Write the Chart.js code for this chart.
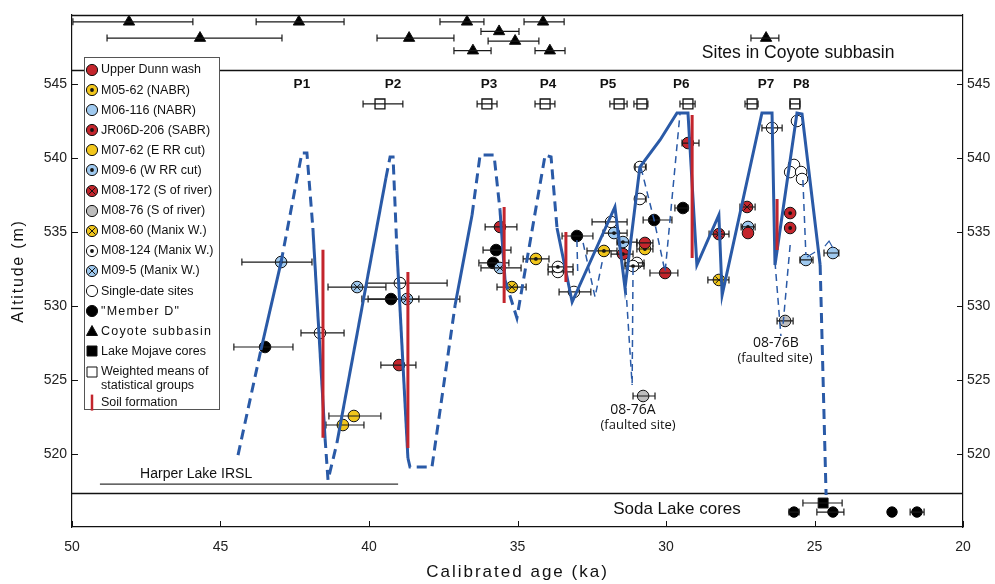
<!DOCTYPE html>
<html>
<head>
<meta charset="utf-8">
<script src="https://cdn.jsdelivr.net/npm/chart.js@4.4.1/dist/chart.umd.min.js"></script>
<style>
  html, body { margin: 0; padding: 0; background: #fff; }
  #wrap { width: 995px; height: 584px; }
</style>
</head>
<body>
<div id="wrap"><canvas id="ctx-lake"></canvas></div>
<script>
// ---- data: [age ka, altitude m, error low ka, error high ka] (null = no bar)
const upperDunn = [[38.99, 526.01, 39.60, 38.42], [35.59, 535.34, 36.09, 35.02], [30.71, 534.26, 30.98, 30.44],
                   [30.03, 532.23, 30.54, 29.60], [29.26, 541.01, 29.46, 28.89], [27.24, 534.93, null, null]];
const m0562 = [[34.38, 533.18, 34.81, 33.94], [32.09, 533.72, 32.66, 31.65], [30.71, 533.85, 30.98, 30.44]];
const m06116 = [[25.29, 533.11, 25.49, 25.05], [24.38, 533.58, 24.68, 24.18]];
const jr06d206 = [[31.45, 533.51, 31.85, 31.11], [25.82, 536.28, null, null], [25.82, 535.27, null, null]];
const m0762 = [[40.51, 522.57, 41.35, 39.60], [40.88, 521.96, 41.45, 40.17]];
const m096 = [[42.96, 532.97, 44.28, 41.92], [31.75, 534.93, 32.12, 31.31], [31.45, 534.32, 31.65, 30.98],
              [27.24, 535.34, 27.47, 27.00]];
const m08172 = [[28.22, 534.86, 28.55, 27.88], [27.27, 536.69, 27.51, 27.00]];
const m0876 = [[30.77, 523.92, 31.11, 30.37], [25.99, 528.99, 26.26, 25.72]];
const m0860 = [[35.19, 531.28, 35.69, 34.71], [28.22, 531.76, 28.59, 27.88]];
const m08124 = [[33.64, 532.64, 33.97, 33.13], [31.11, 532.70, 31.38, 30.74]];
const m095 = [[40.40, 531.28, 41.38, 39.43], [38.72, 530.47, 40.24, 38.32], [35.59, 532.57, 36.23, 34.88]];
const singleDate = [[41.65, 528.18, 42.29, 40.84], [38.96, 531.55, 40.07, 37.37], [33.64, 532.30, 33.97, 33.13],
                    [33.10, 530.95, 33.60, 32.53], [31.85, 535.68, 32.49, 31.31], [30.98, 532.91, 31.38, 30.74],
                    [30.88, 539.39, 31.04, 30.67], [30.88, 537.23, 31.04, 30.67], [26.43, 542.03, 26.77, 26.09],
                    [25.59, 542.50, null, null], [25.69, 539.53, null, null], [25.82, 539.05, null, null],
                    [25.45, 539.05, null, null], [25.42, 538.58, null, null]];
const memberD = [[43.50, 527.23, 44.55, 42.56], [39.26, 530.47, 40.03, 36.94], [35.72, 533.78, 36.16, 35.22],
                 [35.82, 532.91, 36.30, 35.29], [33.00, 534.73, 33.50, 32.46], [30.40, 535.81, 30.77, 29.80],
                 [29.43, 536.62, 29.70, 29.26]];
const coyote = [[48.08, 549.2, 49.97, 45.93], [42.36, 549.2, 43.80, 40.84], [36.70, 549.2, 37.61, 36.13],
                [34.14, 549.2, 34.78, 33.43], [35.62, 548.55, 36.23, 34.95], [45.69, 548.1, 48.82, 42.93],
                [38.65, 548.1, 39.73, 37.14], [35.08, 547.9, 35.99, 34.28], [26.63, 548.1, 27.14, 26.20],
                [36.50, 547.25, 37.14, 35.89], [33.91, 547.25, 34.41, 33.40]];
const mojaveCores = [[24.71, 516.69, 25.39, 24.07]];
const sodaCores = [[25.69, 516.08, 25.86, 25.52], [24.38, 516.08, 24.92, 24.01], [22.39, 516.08, null, null],
                   [21.55, 516.08, 21.78, 21.31]];
const weightedMeans = [[39.63, 543.65, 40.20, 38.86], [36.03, 543.65, 36.36, 35.69], [34.07, 543.65, 34.41, 33.74],
                       [31.58, 543.65, 31.89, 31.31], [30.81, 543.65, 31.08, 30.61], [29.26, 543.65, 29.53, 29.02],
                       [27.10, 543.65, 27.34, 26.90], [25.66, 543.65, 25.82, 25.49]];

// lake-level curve, 1 = inferred (dashed) segment starting at that vertex
const curveAge = [44.41, 43.64, 42.96, 42.26, 42.09, 41.89, 41.48, 41.38, 41.08, 39.43, 39.29, 39.19, 39.06, 38.69,
                  38.62, 37.88, 37.10, 36.53, 36.26, 35.79, 35.59, 35.42, 35.02, 34.07, 33.87, 33.67, 33.16, 31.72,
                  31.38, 30.88, 30.20, 29.63, 29.26, 28.96, 28.22, 28.11, 26.77, 26.43, 26.33, 25.59, 25.42, 24.81, 24.61];
const curveAlt = [519.93, 527.03, 532.97, 540.34, 540.34, 535.27, 521.08, 518.24, 520.74, 538.65, 540.07, 540.07,
                  533.78, 519.73, 519.12, 519.12, 530.07, 536.15, 540.20, 540.20, 536.49, 531.76, 529.19, 540.20,
                  540.07, 535.27, 530.27, 536.69, 531.22, 539.39, 541.22, 543.04, 543.04, 532.77, 536.15, 530.74,
                  543.04, 543.04, 532.77, 543.04, 542.97, 532.77, 517.23];
const curveInferred = [1, 0, 1, 1, 1, 0, 1, 1, 0, 1, 1, 1, 0, 1, 1, 1, 0, 1, 1, 1, 0, 1, 1, 1, 1, 0,
                       0, 0, 0, 0, 0, 0, 0, 0, 0, 0, 0, 0, 0, 0, 0, 1];

// thin dashed links (faulted sites)
const faultLinks = [
  [[32.79, 534.26], [32.39, 530.61], [32.15, 532.97]],
  [[33.00, 534.46], [32.97, 532.09]],
  [[30.84, 539.32], [30.40, 535.81], [30.03, 532.30], [29.53, 542.97]],
  [[31.35, 531.22], [31.14, 524.66]],
  [[31.11, 532.57], [31.14, 524.66]],
  [[26.33, 532.97], [26.13, 527.97]],
  [[25.82, 534.12], [26.06, 528.72]],
  [[25.39, 538.51], [25.29, 533.45]]
];
const smallLinks = [
  [[25.25, 533.31], [24.98, 533.65]],
  [[24.65, 534.05], [24.51, 534.39], [24.38, 533.92]]
];

// soil formation bars
const soilAge = [41.55, 38.69, 35.45, 33.37, 29.12, 26.26];
const soilTop = [533.80, 532.30, 536.69, 535.00, 542.90, 537.23];
const soilBottom = [521.10, 520.41, 530.20, 531.62, 533.24, 533.78];

const harperAge = [49.06, 39.02];
const harperAlt = 517.97;

const peakLabels = ['P1', 'P2', 'P3', 'P4', 'P5', 'P6', 'P7', 'P8'];
const peakAges = [42.26, 39.19, 35.96, 33.97, 31.95, 29.49, 26.63, 25.45];
const peakAlt = 545;

const noteText = ['08-76A', '(faulted site)', '08-76B', '(faulted site)', 'Sites in Coyote subbasin',
                  'Soda Lake cores', 'Harper Lake IRSL'];
const noteAge = [31.11, 30.94, 26.30, 26.33, 25.55, 29.63, 45.82];
const noteAlt = [522.97, 521.96, 527.50, 526.49, 547.07, 516.28, 518.65];

const xTicks = [20, 25, 30, 35, 40, 45, 50];
const yTicks = [520, 525, 530, 535, 540, 545];
const coyoteFloor = 545.95;
const sodaTop = 517.36;

// ---- styles
const RED = '#c3252c', YEL = '#f1c61c', LBLUE = '#9fc9ef', GREY = '#bdbdbd', BLUE = '#2a5aa7', INK = '#111';
const FONT = '"Liberation Sans", Arial, sans-serif';
const NOTE_FONT = ['14px "Open Sans"', '13px "Open Sans"', '14px "Open Sans"', '13px "Open Sans"',
                   '17.5px ' + FONT, '17px ' + FONT, '14px ' + FONT];

function drawGlyph(ctx, x, y, glyph) {
  if (glyph === 'dot') {
    ctx.fillStyle = INK;
    ctx.beginPath(); ctx.arc(x, y, 1.9, 0, Math.PI * 2); ctx.fill();
  }
  if (glyph === 'cross') {
    ctx.strokeStyle = INK;
    ctx.lineWidth = 1;
    ctx.beginPath();
    ctx.moveTo(x - 3.4, y - 3.4); ctx.lineTo(x + 3.4, y + 3.4);
    ctx.moveTo(x + 3.4, y - 3.4); ctx.lineTo(x - 3.4, y + 3.4);
    ctx.stroke();
  }
}

const series = [
  { label: 'Upper Dunn wash', data: upperDunn, shape: 'circle', fill: RED },
  { label: 'M05-62 (NABR)', data: m0562, shape: 'circle', fill: YEL, glyph: 'dot' },
  { label: 'M06-116 (NABR)', data: m06116, shape: 'circle', fill: LBLUE },
  { label: 'JR06D-206 (SABR)', data: jr06d206, shape: 'circle', fill: RED, glyph: 'dot' },
  { label: 'M07-62 (E RR cut)', data: m0762, shape: 'circle', fill: YEL },
  { label: 'M09-6 (W RR cut)', data: m096, shape: 'circle', fill: LBLUE, glyph: 'dot' },
  { label: 'M08-172 (S of river)', data: m08172, shape: 'circle', fill: RED, glyph: 'cross' },
  { label: 'M08-76 (S of river)', data: m0876, shape: 'circle', fill: GREY },
  { label: 'M08-60 (Manix W.)', data: m0860, shape: 'circle', fill: YEL, glyph: 'cross' },
  { label: 'M08-124 (Manix W.)', data: m08124, shape: 'circle', fill: '#fff', glyph: 'dot' },
  { label: 'M09-5 (Manix W.)', data: m095, shape: 'circle', fill: LBLUE, glyph: 'cross' },
  { label: 'Single-date sites', data: singleDate, shape: 'circle', fill: '#fff' },
  { label: '"Member D"', data: memberD, shape: 'circle', fill: '#000', spaced: true },
  { label: 'Coyote subbasin', data: coyote, shape: 'triangle', fill: '#000', spaced: true },
  { label: 'Lake Mojave cores', data: mojaveCores, shape: 'rect', fill: '#000' },
  { label: 'Weighted means of\nstatistical groups', data: weightedMeans, shape: 'rect', fill: '#fff' }
];
const RADIUS = { circle: 5.8, triangle: 6.5, rect: 7 };

const pointSets = series.map(s => ({
  type: 'scatter',
  label: s.label,
  data: s.data.map(r => ({ x: r[0], y: r[1] })),
  errs: s.data.map(r => [r[2], r[3]]),
  glyph: s.glyph,
  pointStyle: s.shape,
  pointRadius: RADIUS[s.shape],
  pointBackgroundColor: s.fill,
  pointBorderColor: INK,
  pointBorderWidth: s.shape === 'rect' && s.fill === '#fff' ? 1.3 : 1,
  order: 5
}));
pointSets.push({
  type: 'scatter', label: 'Soda Lake cores',
  data: sodaCores.map(r => ({ x: r[0], y: r[1] })),
  errs: sodaCores.map(r => [r[2], r[3]]),
  pointStyle: 'circle', pointRadius: 5.2, pointBackgroundColor: '#000', pointBorderColor: '#000', order: 5
});

const lineSets = [];
lineSets.push({
  type: 'line', label: 'lake level',
  data: curveAge.map((a, i) => ({ x: a, y: curveAlt[i] })),
  borderColor: BLUE, borderWidth: 3, pointRadius: 0, tension: 0, fill: false,
  segment: { borderDash: c => curveInferred[c.p0DataIndex] ? [10, 6] : undefined },
  order: 1
});
faultLinks.forEach(l => lineSets.push({
  type: 'line', data: l.map(p => ({ x: p[0], y: p[1] })),
  borderColor: BLUE, borderWidth: 1.5, borderDash: [7, 5], pointRadius: 0, fill: false, order: 1
}));
smallLinks.forEach(l => lineSets.push({
  type: 'line', data: l.map(p => ({ x: p[0], y: p[1] })),
  borderColor: BLUE, borderWidth: 1.2, pointRadius: 0, fill: false, order: 1
}));
soilAge.forEach((a, i) => lineSets.push({
  type: 'line', data: [{ x: a, y: soilTop[i] }, { x: a, y: soilBottom[i] }],
  borderColor: RED, borderWidth: 3, pointRadius: 0, fill: false, order: 0
}));
lineSets.push({
  type: 'line', data: harperAge.map(a => ({ x: a, y: harperAlt })),
  borderColor: '#333', borderWidth: 1.2, pointRadius: 0, fill: false, order: 1
});

// ---- plugins
const panels = {
  id: 'panels',
  beforeDatasetsDraw(chart) {
    const { ctx, chartArea: ca, scales: { y } } = chart;
    ctx.save();
    ctx.strokeStyle = INK;
    ctx.lineWidth = 1.3;
    [coyoteFloor, sodaTop].forEach(v => {
      const py = Math.round(y.getPixelForValue(v)) + 0.5;
      ctx.beginPath(); ctx.moveTo(ca.left, py); ctx.lineTo(ca.right, py); ctx.stroke();
    });
    ctx.beginPath(); ctx.moveTo(ca.left, ca.top + 0.5); ctx.lineTo(ca.right, ca.top + 0.5); ctx.stroke();
    ctx.restore();
  }
};

// inner glyphs and error bars, drawn right after each point dataset
const markExtras = {
  id: 'markExtras',
  afterDatasetDraw(chart, args) {
    const ds = chart.data.datasets[args.index];
    if (!ds.errs) return;
    const { ctx, scales: { x, y } } = chart;
    ctx.save();
    args.meta.data.forEach((el, i) => {
      if (ds.glyph) drawGlyph(ctx, el.x, el.y, ds.glyph);
      const e = ds.errs[i];
      if (e[0] == null) return;
      const py = y.getPixelForValue(ds.data[i].y);
      const x0 = x.getPixelForValue(e[0]), x1 = x.getPixelForValue(e[1]);
      ctx.strokeStyle = '#1a1a1a';
      ctx.lineWidth = 1.2;
      ctx.beginPath();
      ctx.moveTo(x0, py); ctx.lineTo(x1, py);
      ctx.moveTo(x0, py - 3.5); ctx.lineTo(x0, py + 3.5);
      ctx.moveTo(x1, py - 3.5); ctx.lineTo(x1, py + 3.5);
      ctx.stroke();
    });
    ctx.restore();
  }
};

const labels = {
  id: 'labels',
  afterDatasetsDraw(chart) {
    const { ctx, scales: { x, y } } = chart;
    ctx.save();
    ctx.fillStyle = INK;
    ctx.textAlign = 'center';
    ctx.textBaseline = 'middle';
    ctx.font = 'bold 13.5px ' + FONT;
    peakLabels.forEach((t, i) => ctx.fillText(t, x.getPixelForValue(peakAges[i]), y.getPixelForValue(peakAlt)));
    noteText.forEach((t, i) => {
      ctx.font = NOTE_FONT[i];
      ctx.fillText(t, x.getPixelForValue(noteAge[i]), y.getPixelForValue(noteAlt[i]));
    });
    ctx.restore();
  }
};

const frame = {
  id: 'frame',
  afterDraw(chart) {
    const { ctx, chartArea: ca, scales } = chart;
    ctx.save();
    ctx.strokeStyle = INK;
    ctx.lineWidth = 1;
    ctx.beginPath();
    scales.x.ticks.forEach(t => {
      const px = Math.round(scales.x.getPixelForValue(t.value)) + 0.5;
      ctx.moveTo(px, ca.bottom); ctx.lineTo(px, ca.bottom - 6);
    });
    scales.y.ticks.forEach(t => {
      const py = Math.round(scales.y.getPixelForValue(t.value)) + 0.5;
      ctx.moveTo(ca.left, py); ctx.lineTo(ca.left + 6, py);
      ctx.moveTo(ca.right, py); ctx.lineTo(ca.right - 6, py);
    });
    ctx.stroke();

    // axis titles
    ctx.fillStyle = INK;
    ctx.textAlign = 'center';
    ctx.textBaseline = 'middle';
    ctx.font = '17px ' + FONT;
    ctx.letterSpacing = '2px';
    ctx.fillText('Calibrated age (ka)', (ca.left + ca.right) / 2, 572);
    ctx.translate(19, (ca.top + ca.bottom) / 2);
    ctx.rotate(-Math.PI / 2);
    ctx.font = '16px ' + FONT;
    ctx.letterSpacing = '1.8px';
    ctx.fillText('Altitude (m)', 0, 0);
    ctx.restore();

    // legend box
    const lx = ca.left + 12, ly = 57, lw = 135, lh = 352;
    ctx.save();
    ctx.fillStyle = '#fff';
    ctx.strokeStyle = '#555';
    ctx.lineWidth = 1;
    ctx.fillRect(lx, ly, lw, lh);
    ctx.strokeRect(lx + 0.5, ly + 0.5, lw, lh);
    ctx.textBaseline = 'middle';
    let rowY = ly + 13;
    series.forEach(s => {
      const mx = lx + 8, my = Math.round(rowY);
      ctx.fillStyle = s.fill;
      ctx.strokeStyle = INK;
      ctx.lineWidth = 1;
      ctx.beginPath();
      if (s.shape === 'circle') ctx.arc(mx, my, 5.6, 0, Math.PI * 2);
      if (s.shape === 'triangle') { ctx.moveTo(mx, my - 5.5); ctx.lineTo(mx + 5.5, my + 4.5); ctx.lineTo(mx - 5.5, my + 4.5); ctx.closePath(); }
      if (s.shape === 'rect') ctx.rect(mx - 5, my - 5, 10, 10);
      ctx.fill();
      ctx.stroke();
      drawGlyph(ctx, mx, my, s.glyph);
      ctx.fillStyle = INK;
      ctx.font = '12.5px ' + FONT;
      ctx.letterSpacing = s.spaced ? '1.2px' : '0px';
      s.label.split('\n').forEach((line, k) => ctx.fillText(line, lx + 17, rowY + k * 14));
      rowY += 20.1;
    });
    rowY += 11;
    ctx.strokeStyle = RED;
    ctx.lineWidth = 2.5;
    ctx.beginPath(); ctx.moveTo(lx + 8, rowY - 8); ctx.lineTo(lx + 8, rowY + 8); ctx.stroke();
    ctx.letterSpacing = '0px';
    ctx.fillText('Soil formation', lx + 17, rowY);
    ctx.restore();
  }
};

const tickFont = { family: FONT, size: 14 };
new Chart(document.getElementById('ctx-lake'), {
  type: 'scatter',
  data: { datasets: [...lineSets, ...pointSets] },
  options: {
    responsive: true,
    maintainAspectRatio: false,
    animation: false,
    events: [],
    layout: { padding: { top: 15, left: 0, right: 0, bottom: 0 } },
    plugins: { legend: { display: false }, tooltip: { enabled: false } },
    scales: {
      x: {
        type: 'linear', reverse: true, min: 20, max: 50,
        afterBuildTicks: s => { s.ticks = xTicks.map(v => ({ value: v })); },
        afterFit: s => { s.height = 57; },
        grid: { display: false, drawTicks: false },
        border: { display: true, color: INK, width: 1.2 },
        ticks: { font: tickFont, color: '#222', padding: 12, maxRotation: 0 }
      },
      y: {
        type: 'linear', position: 'left', min: 515.07, max: 549.66,
        afterBuildTicks: s => { s.ticks = yTicks.map(v => ({ value: v })); },
        afterFit: s => { s.width = 72; },
        grid: { display: false, drawTicks: false },
        border: { display: true, color: INK, width: 1.2 },
        ticks: { font: tickFont, color: '#222', padding: 5 }
      },
      y2: {
        type: 'linear', position: 'right', min: 515.07, max: 549.66,
        afterBuildTicks: s => { s.ticks = yTicks.map(v => ({ value: v })); },
        afterFit: s => { s.width = 32; },
        grid: { display: false, drawTicks: false },
        border: { display: true, color: INK, width: 1.2 },
        ticks: { font: tickFont, color: '#222', padding: 4 }
      }
    }
  },
  plugins: [panels, markExtras, labels, frame]
});
</script>
</body>
</html>
